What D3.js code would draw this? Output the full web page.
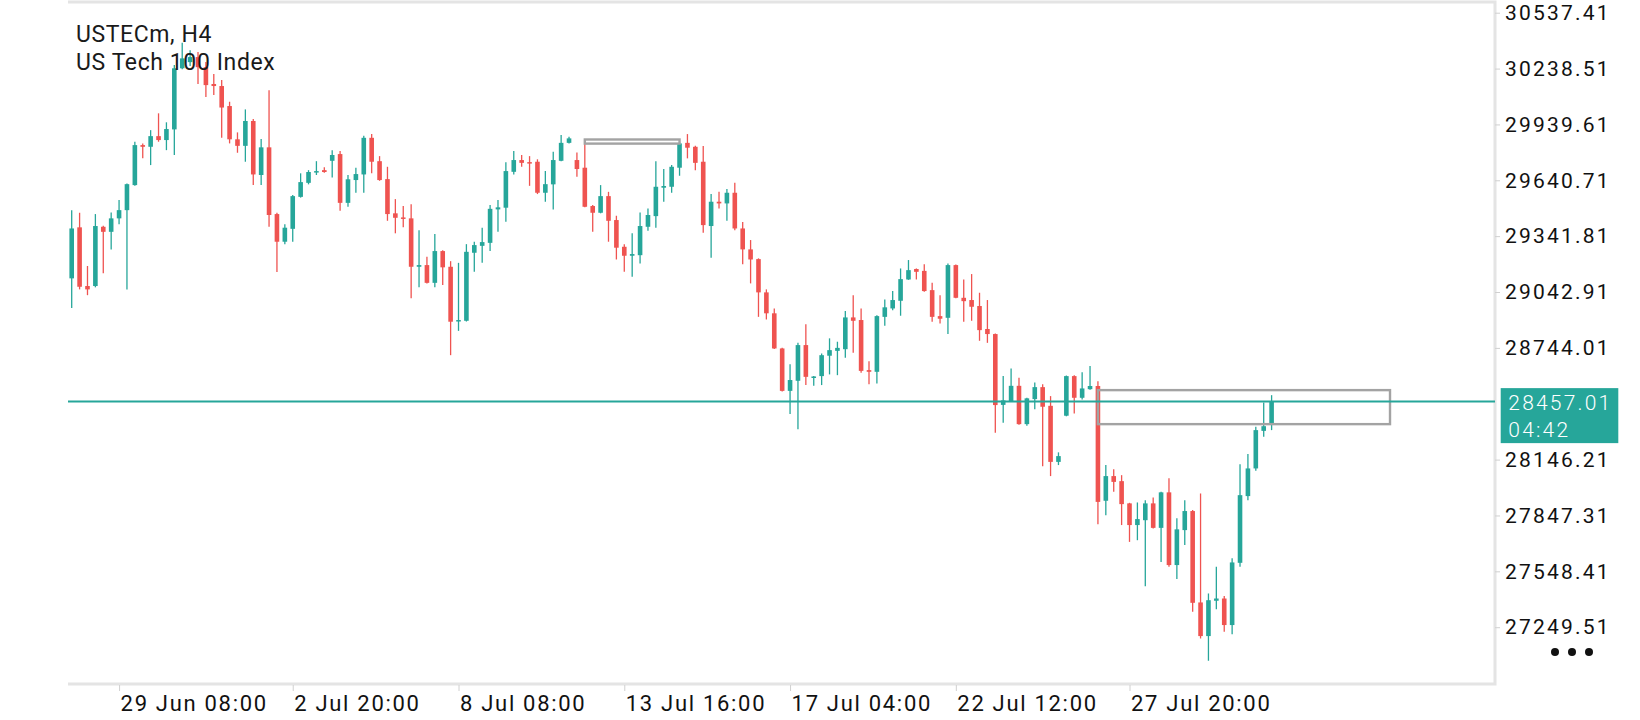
<!DOCTYPE html>
<html>
<head>
<meta charset="utf-8">
<script src="https://cdn.jsdelivr.net/npm/d3@7"></script>
<style>
  html, body { margin: 0; padding: 0; background: #fff; }
  svg { display: block; font-family: Roboto, "Noto Sans", sans-serif; }
</style>
</head>
<body>
<svg id="chart" width="1640" height="720"></svg>
<script>
/*************************Data (USTECm H4 candles)********************* */
const opens = [
  29116, 29389, 29075, 29075, 29392, 29365, 29437, 29481, 29615, 29829,
  29820, 29877, 29856, 29913, 30240, 30273, 30300, 30246, 30156, 30145,
  30038, 29860, 29825, 29958, 29669, 29817, 29460, 29312, 29381, 29552,
  29627, 29685, 29695, 29745, 29781, 29520, 29642, 29672, 29868, 29743,
  29647, 29464, 29442, 29437, 29178, 29187, 29092, 29262, 29178, 28886,
  28889, 29253, 29290, 29306, 29485, 29494, 29686, 29749, 29738, 29740,
  29574, 29619, 29745, 29841, 29749, 29708, 29503, 29467, 29556, 29428,
  29285, 29237, 29240, 29392, 29449, 29601, 29606, 29708, 29841, 29820,
  29740, 29396, 29526, 29517, 29574, 29383, 29271, 29219, 29041, 28929,
  28741, 28514, 28568, 28759, 28586, 28593, 28702, 28728, 28737, 28907,
  28893, 28625, 28616, 28910, 28955, 28996, 29110, 29166, 29156, 29053,
  28914, 28905, 29187, 29012, 29000, 28968, 28845, 28818, 28439, 28459,
  28541, 28336, 28470, 28534, 28434, 28134, 28381, 28593, 28477, 28523,
  28540, 27926, 28058, 28031, 27912, 27796, 27822, 27912, 27781, 27971,
  27582, 27769, 27871, 27382, 27202, 27391, 27403, 27261, 27594, 27951,
  28099, 28300, 28340
];
const highs = [
  29481, 29467, 29182, 29460, 29398, 29469, 29535, 29624, 29847, 29838,
  29909, 29999, 29951, 30257, 30377, 30337, 30327, 30273, 30209, 30177,
  30061, 29897, 30020, 29968, 29861, 30123, 29467, 29406, 29562, 29678,
  29695, 29743, 29710, 29802, 29797, 29669, 29708, 29879, 29888, 29770,
  29713, 29540, 29503, 29513, 29374, 29231, 29353, 29267, 29208, 29199,
  29299, 29312, 29387, 29508, 29535, 29737, 29797, 29776, 29770, 29753,
  29690, 29793, 29883, 29874, 29790, 29847, 29508, 29615, 29579, 29451,
  29299, 29357, 29469, 29490, 29743, 29701, 29722, 29847, 29888, 29825,
  29824, 29567, 29579, 29594, 29627, 29417, 29321, 29223, 29057, 28955,
  28745, 28657, 28771, 28871, 28594, 28714, 28795, 28777, 28941, 29026,
  28955, 28673, 28919, 29003, 29048, 29169, 29214, 29169, 29192, 29092,
  29026, 29196, 29190, 29110, 29139, 29039, 29000, 28821, 28593, 28634,
  28584, 28477, 28559, 28550, 28486, 28185, 28596, 28598, 28614, 28647,
  28566, 28117, 28095, 28063, 27915, 27917, 27929, 27944, 27974, 28046,
  27832, 27929, 27876, 27965, 27430, 27573, 27417, 27618, 28122, 28176,
  28322, 28452, 28491
];
const lows = [
  28957, 29057, 29026, 29068, 29143, 29271, 29406, 29057, 29612, 29758,
  29722, 29847, 29802, 29776, 30235, 30252, 30156, 30086, 30097, 29868,
  29838, 29788, 29740, 29615, 29615, 29392, 29150, 29298, 29312, 29548,
  29619, 29669, 29681, 29656, 29478, 29499, 29574, 29574, 29678, 29638,
  29424, 29357, 29389, 29009, 29068, 29089, 29068, 29080, 28705, 28835,
  28885, 29151, 29199, 29263, 29365, 29419, 29672, 29713, 29611, 29567,
  29526, 29485, 29742, 29838, 29659, 29497, 29365, 29464, 29312, 29217,
  29151, 29124, 29196, 29371, 29387, 29526, 29574, 29665, 29758, 29695,
  29360, 29226, 29490, 29424, 29374, 29192, 29089, 28910, 28896, 28738,
  28510, 28390, 28308, 28545, 28541, 28545, 28602, 28598, 28691, 28718,
  28611, 28549, 28554, 28862, 28946, 28916, 29108, 29110, 29044, 28884,
  28875, 28818, 29009, 28884, 28889, 28782, 28771, 28290, 28343, 28456,
  28333, 28327, 28416, 28111, 28058, 28117, 28378, 28393, 28468, 28520,
  27801, 27849, 27974, 27796, 27706, 27715, 27469, 27778, 27599, 27573,
  27507, 27689, 27332, 27189, 27070, 27345, 27225, 27212, 27573, 27929,
  28086, 28268, 28304
];
const closes = [
  29383, 29071, 29057, 29396, 29365, 29437, 29481, 29620, 29829, 29820,
  29877, 29856, 29915, 30240, 30293, 30300, 30246, 30150, 30145, 30030,
  29860, 29825, 29958, 29672, 29817, 29455, 29312, 29387, 29556, 29631,
  29685, 29690, 29685, 29776, 29520, 29646, 29674, 29868, 29740, 29642,
  29460, 29440, 29435, 29178, 29187, 29092, 29262, 29175, 28884, 28893,
  29258, 29294, 29310, 29488, 29496, 29690, 29749, 29734, 29735, 29574,
  29620, 29749, 29841, 29865, 29701, 29499, 29467, 29556, 29424, 29280,
  29237, 29246, 29396, 29455, 29606, 29610, 29713, 29838, 29815, 29734,
  29401, 29526, 29517, 29574, 29383, 29271, 29217, 29041, 28929, 28741,
  28514, 28572, 28759, 28589, 28591, 28705, 28732, 28744, 28907, 28889,
  28621, 28616, 28914, 28961, 29000, 29112, 29160, 29151, 29048, 28910,
  28900, 29187, 29012, 28994, 28964, 28839, 28818, 28438, 28463, 28541,
  28336, 28474, 28534, 28429, 28134, 28165, 28593, 28477, 28527, 28540,
  27920, 28058, 28027, 27908, 27796, 27828, 27912, 27781, 27971, 27582,
  27773, 27871, 27380, 27202, 27394, 27403, 27261, 27596, 27956, 28099,
  28304, 28325, 28457.01
];

// time axis: candle index where each label sits
const timeTickIdx = [6, 28, 49, 70, 91, 112, 134];
const timeLabels = ["29 Jun 08:00", "2 Jul 20:00", "8 Jul 08:00", "13 Jul 16:00", "17 Jul 04:00", "22 Jul 12:00", "27 Jul 20:00"];

// price axis (28445.11 sits under the current price tag)
const priceTicks = [30537.41, 30238.51, 29939.61, 29640.71, 29341.81, 29042.91, 28744.01, 28146.21, 27847.31, 27548.41, 27249.51];
const lastPrice = 28457.01;
const lastTimer = "04:42";

// drawn zones: start candle, end candle, top price, bottom price
const zoneStart = [65, 130];
const zoneEnd = [77, 167];
const zoneTop = [29859, 28518];
const zoneBottom = [29837, 28336];

/*************************Scales and layout********************* */
const width = 1640;
const height = 720;
const plotLeft = 68;
const plotRight = 1495;
const plotTop = 2;
const plotBottom = 684;
const up = "#26a69a";
const down = "#ef5350";

const svg = d3.select("svg#chart");
svg.append("rect").attr("width", width).attr("height", height).attr("fill", "#fff");

const scaleX = d3.scaleLinear().domain([0, opens.length - 1]).range([71.7, 1271.6]);
const scaleY = d3.scaleLinear().domain([27249.51, 30537.41]).range([627.2, 12.7]);

const candles = opens.map((o, i) => ({ i, o, h: highs[i], l: lows[i], c: closes[i] }));

/*************************Frame********************* */
svg
  .append("path")
  .attr("d", `M${plotLeft},${plotTop}H${plotRight}V${plotBottom}H${plotLeft}`)
  .attr("fill", "none")
  .attr("stroke", "#e4e4e4")
  .attr("stroke-width", 3);

/*************************Candles********************* */
const g = svg.append("g").attr("class", "candles");
g.selectAll("line")
  .data(candles)
  .join("line")
  .attr("x1", (d) => scaleX(d.i))
  .attr("x2", (d) => scaleX(d.i))
  .attr("y1", (d) => scaleY(d.h))
  .attr("y2", (d) => scaleY(d.l))
  .attr("stroke", (d) => (d.c >= d.o ? up : down))
  .attr("stroke-width", 1.3);
g.selectAll("rect")
  .data(candles)
  .join("rect")
  .attr("x", (d) => scaleX(d.i) - 2.3)
  .attr("width", 4.6)
  .attr("y", (d) => scaleY(Math.max(d.o, d.c)))
  .attr("height", (d) => Math.max(1.5, Math.abs(scaleY(d.o) - scaleY(d.c))))
  .attr("fill", (d) => (d.c >= d.o ? up : down));

/*************************Zones and price line********************* */
svg
  .append("g")
  .selectAll("rect")
  .data(zoneStart)
  .join("rect")
  .attr("x", (d) => scaleX(d))
  .attr("width", (d, i) => scaleX(zoneEnd[i]) - scaleX(d))
  .attr("y", (d, i) => scaleY(zoneTop[i]))
  .attr("height", (d, i) => scaleY(zoneBottom[i]) - scaleY(zoneTop[i]))
  .attr("fill", "none")
  .attr("stroke", "#a3a3a3")
  .attr("stroke-width", 2.4);

svg
  .append("line")
  .attr("x1", plotLeft)
  .attr("x2", plotRight)
  .attr("y1", scaleY(lastPrice))
  .attr("y2", scaleY(lastPrice))
  .attr("stroke", up)
  .attr("stroke-width", 2);

/*************************Axes********************* */
const yAxis = d3.axisRight(scaleY).tickValues(priceTicks).tickSize(5).tickFormat((d) => d.toFixed(2));
const yg = svg.append("g").attr("class", "y-axis").attr("transform", `translate(${plotRight},0)`).call(yAxis);
yg.select(".domain").remove();
yg.selectAll(".tick line").attr("stroke", "#d0d0d0");
yg.selectAll(".tick text")
  .attr("x", 10)
  .style("font-size", "21px")
  .style("letter-spacing", "2.2px")
  .style("font-family", "Roboto, sans-serif")
  .attr("fill", "#111");

const xAxis = d3
  .axisBottom(scaleX)
  .tickValues(timeTickIdx)
  .tickSize(6)
  .tickFormat((d, i) => timeLabels[i]);
const xg = svg.append("g").attr("class", "x-axis").attr("transform", `translate(0,${plotBottom + 1})`).call(xAxis);
xg.select(".domain").remove();
xg.selectAll(".tick line").attr("stroke", "#d0d0d0");
xg.selectAll(".tick text")
  .attr("text-anchor", "start")
  .attr("x", 1)
  .attr("y", 10)
  .attr("dy", "0.71em")
  .style("font-size", "22px")
  .style("letter-spacing", "1.7px")
  .style("font-family", "Roboto, sans-serif")
  .attr("fill", "#111");

/*************************Current price tag********************* */
const tag = svg.append("g").attr("transform", `translate(${plotRight + 5.7},${scaleY(lastPrice) - 13.4})`);
tag.append("rect").attr("width", 117.6).attr("height", 55).attr("fill", up);
tag
  .selectAll("text")
  .data([lastPrice.toFixed(2), lastTimer])
  .join("text")
  .text((d) => d)
  .attr("x", 7.6)
  .attr("y", (d, i) => 21.7 + i * 26.7)
  .attr("fill", "#fff")
  .style("font-size", "21px")
  .style("font-weight", 300)
  .style("letter-spacing", "2.2px");

/*************************Title and menu dots********************* */
const title = svg.append("g").attr("class", "title").style("font-size", "23px").style("letter-spacing", "0.6px").attr("fill", "#1a1a1a");
title.append("text").text("USTECm, H4").attr("x", 76).attr("y", 41.5);
title.append("text").text("US Tech 100 Index").attr("x", 76).attr("y", 70);

svg
  .append("g")
  .selectAll("circle")
  .data([0, 1, 2])
  .join("circle")
  .attr("cx", (d) => 1555 + d * 17)
  .attr("cy", 652)
  .attr("r", 4)
  .attr("fill", "#111");
</script>
</body>
</html>
